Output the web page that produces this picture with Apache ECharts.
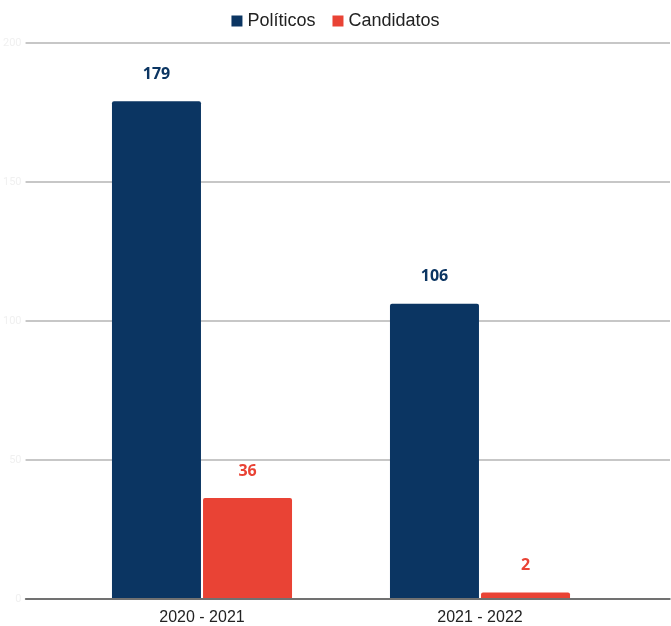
<!DOCTYPE html>
<html>
<head>
<meta charset="utf-8">
<script src="https://cdn.jsdelivr.net/npm/echarts@6/dist/echarts.min.js"></script>
<style>
html,body{margin:0;padding:0;background:#fff;}
#c{width:671px;height:626px;}
</style>
</head>
<body>
<div id="c"></div>
<script>
const categories = ['2020 - 2021', '2021 - 2022'];
const politicos = [179, 106];
const candidatos = [36, 2];
const yTicks = [0, 50, 100, 150, 200];

const chart = echarts.init(document.getElementById('c'), null, {renderer: 'canvas'});
const labelStyle = (color) => ({
  show: true,
  position: 'top',
  distance: 19,
  color: color,
  fontFamily: 'Open Sans',
  fontWeight: 'bold',
  fontSize: 16,
  textBorderColor: '#fff',
  textBorderWidth: 3
});
chart.setOption({
  animation: false,
  backgroundColor: '#fff',
  legend: {
    top: 7,
    left: 'center',
    itemWidth: 11,
    itemHeight: 11,
    itemGap: 17,
    icon: 'rect',
    textStyle: {fontFamily: 'Liberation Sans', fontSize: 18, color: '#222'},
    data: ['Políticos', 'Candidatos']
  },
  grid: [
    {left: 14, right: 1, top: 43, bottom: 27, containLabel: false},
    {left: 63, right: 52, top: 43, bottom: 27, containLabel: false}
  ],
  xAxis: [
    {gridIndex: 0, type: 'category', data: categories, show: true,
     axisLine: {show: true, lineStyle: {color: '#555', width: 1.5}},
     axisTick: {show: false}, axisLabel: {show: false}},
    {gridIndex: 1, type: 'category', data: categories,
     axisLine: {show: false}, axisTick: {show: false},
     axisLabel: {fontFamily: 'Liberation Sans', fontSize: 16, color: '#222', margin: 12}}
  ],
  yAxis: [
    {gridIndex: 0, type: 'value', min: yTicks[0], max: yTicks[yTicks.length - 1], interval: 50,
     axisLine: {show: false}, axisTick: {show: false},
     axisLabel: {show: true, color: '#f0f0f0', fontSize: 11, margin: 4, fontFamily: 'Roboto'},
     splitLine: {lineStyle: {color: '#b5b5b5', width: 1.5}}},
    {gridIndex: 1, type: 'value', min: yTicks[0], max: yTicks[yTicks.length - 1], interval: 50,
     show: false, splitLine: {show: false}}
  ],
  series: [
    {name: 'Políticos', type: 'bar', xAxisIndex: 1, yAxisIndex: 1, data: politicos,
     barWidth: 89, barGap: '2.3%',
     itemStyle: {color: '#0b3562', borderRadius: [2, 2, 0, 0]},
     label: labelStyle('#0b3562')},
    {name: 'Candidatos', type: 'bar', xAxisIndex: 1, yAxisIndex: 1, data: candidatos,
     barWidth: 89, barGap: '2.3%',
     itemStyle: {color: '#e94335', borderRadius: [2, 2, 0, 0]},
     label: labelStyle('#e94335')}
  ]
});
</script>
</body>
</html>
